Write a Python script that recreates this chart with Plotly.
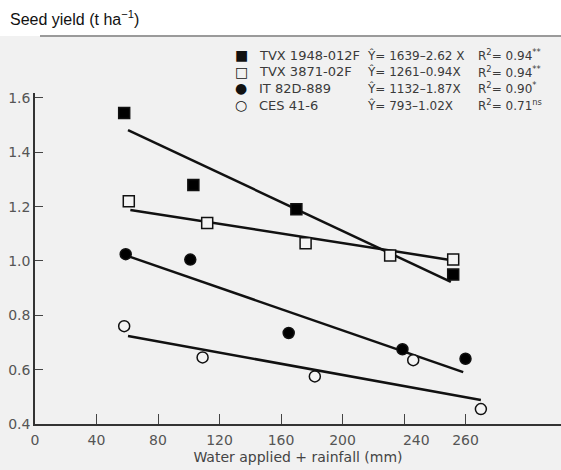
import plotly.graph_objects as go

# ---------------- data ----------------
genotypes = ["TVX 1948-012F", "TVX 3871-02F", "IT 82D-889", "CES 41-6"]
key_glyphs = ["■", "□", "●", "○"]
equations = ["Ŷ= 1639–2.62 X", "Ŷ= 1261–0.94X", "Ŷ= 1132–1.87X", "Ŷ= 793–1.02X"]
r2_values = ["0.94", "0.94", "0.90", "0.71"]
r2_signif = ["**", "**", "*", "ns"]

water_tvx1948 = [58, 103, 170, 272]
yield_tvx1948 = [1.545, 1.28, 1.19, 0.95]
water_tvx3871 = [61, 112, 176, 231, 272]
yield_tvx3871 = [1.22, 1.14, 1.065, 1.02, 1.005]
water_it82d = [59, 101, 165, 239, 280]
yield_it82d = [1.025, 1.005, 0.735, 0.675, 0.64]
water_ces = [58, 109, 182, 246, 290]
yield_ces = [0.76, 0.645, 0.575, 0.635, 0.455]

# fitted regression line end points (x start/end, y start/end)
fit_x_start = [60.5, 62, 60.5, 60.5]
fit_x_end = [270.5, 270, 278.5, 290]
fit_y_start = [1.482, 1.188, 1.018, 0.724]
fit_y_end = [0.923, 1.004, 0.591, 0.488]

x_tick_vals = [0, 40, 80, 120, 160, 200, 248, 280]
x_tick_text = ["0", "40", "80", "120", "160", "200", "240", "260"]
x_tick_marks = [40, 80, 120, 160, 200, 240, 280]
y_tick_vals = [0.4, 0.6, 0.8, 1.0, 1.2, 1.4, 1.6]
y_tick_text = ["0.4", "0.6", "0.8", "1.0", "1.2", "1.4", "1.6"]

# ---------------- figure ----------------
FONT = "DejaVu Sans, Verdana, sans-serif"
TFONT = "Liberation Sans, Arial, Helvetica, sans-serif"
W, H = 561, 470
L, R, T, B = 35, 0, 93, 46
plot_h = H - T - B
PX_PER_X = 1.5375
PX_PER_Y = 271.7

fig = go.Figure()

series = [
    (water_tvx1948, yield_tvx1948, "square", "black"),
    (water_tvx3871, yield_tvx3871, "square", "#f4f4f4"),
    (water_it82d, yield_it82d, "circle", "black"),
    (water_ces, yield_ces, "circle", "#f4f4f4"),
]

for i in range(len(genotypes)):
    fig.add_trace(go.Scatter(
        x=[fit_x_start[i], fit_x_end[i]], y=[fit_y_start[i], fit_y_end[i]],
        mode="lines", line=dict(color="#111111", width=2.5),
        showlegend=False, hoverinfo="skip"))

for i, (xs, ys, sym, fill) in enumerate(series):
    fig.add_trace(go.Scatter(
        x=xs, y=ys, mode="markers", name=genotypes[i], showlegend=False,
        marker=dict(symbol=sym, size=11, color=fill,
                    line=dict(color="#111111", width=1.5))))

def py(px):
    return (H - B - px) / plot_h

def pxx(px):
    return (px - L) / (W - L - R)

row_y = [55, 71.7, 88.3, 105]
ann = []
txt = dict(family=FONT, size=13, color="#3a3a3a")
txt_eq = dict(family=FONT, size=12, color="#3a3a3a")
for i in range(4):
    ann.append(dict(x=pxx(241), y=py(row_y[i]), xref="paper", yref="paper",
                    xanchor="center", yanchor="middle", showarrow=False,
                    text=key_glyphs[i], font=dict(family=FONT, size=14, color="#111")))
    ann.append(dict(x=pxx(257), y=py(row_y[i]), xref="paper", yref="paper",
                    xanchor="left", yanchor="middle", showarrow=False,
                    text=genotypes[i], font=txt))
    ann.append(dict(x=pxx(365), y=py(row_y[i]), xref="paper", yref="paper",
                    xanchor="left", yanchor="middle", showarrow=False,
                    text=equations[i], font=txt_eq))
    ann.append(dict(x=pxx(476), y=py(row_y[i]), xref="paper", yref="paper",
                    xanchor="left", yanchor="middle", showarrow=False,
                    text="R<sup>2</sup>= " + r2_values[i] + "<sup>" + r2_signif[i] + "</sup>",
                    font=txt_eq))
ann.append(dict(x=pxx(8), y=py(18), xref="paper", yref="paper",
                xanchor="left", yanchor="middle", showarrow=False,
                text="Seed yield (t ha<sup>−1</sup>)",
                font=dict(family=TFONT, size=16, color="#111")))

shapes = [
    dict(type="rect", xref="paper", yref="paper", x0=pxx(0), x1=1.0,
         y0=py(H), y1=py(36), fillcolor="#f1f1f1", line=dict(width=0), layer="below"),
    dict(type="line", xref="paper", yref="paper", x0=pxx(40), x1=1.0,
         y0=py(36), y1=py(36), line=dict(color="#9a9a9a", width=2), layer="below"),
]

fig.update_layout(
    width=W, height=H,
    margin=dict(l=L, r=R, t=T, b=B, pad=0),
    paper_bgcolor="white", plot_bgcolor="rgba(0,0,0,0)",
    font=dict(family=FONT, size=14, color="#555"),
    showlegend=False,
    annotations=ann, shapes=shapes,
)
fig.update_xaxes(
    range=[0, (W - L - R) / PX_PER_X], showgrid=False, zeroline=False,
    showline=True, linecolor="#333", linewidth=1.5,
    tickmode="array", tickvals=x_tick_vals, ticktext=x_tick_text, ticks="",
    ticklabelstandoff=2,
    tickfont=dict(family=FONT, size=14, color="#555"),
    minor=dict(tickmode="array", tickvals=x_tick_marks, ticks="inside",
               ticklen=10, tickcolor="#444", tickwidth=1.2, showgrid=False),
    title=dict(text="Water applied + rainfall (mm)", standoff=6,
               font=dict(family=FONT, size=14, color="#444")),
)
fig.update_yaxes(
    range=[0.4, 0.4 + plot_h / PX_PER_Y], showgrid=False, zeroline=False,
    showline=True, linecolor="#333", linewidth=1.5,
    tickmode="array", tickvals=y_tick_vals, ticktext=y_tick_text,
    ticks="inside", ticklen=8, tickcolor="#444",
    tickfont=dict(family=FONT, size=14, color="#555"),
)

fig.write_html("out.html")
